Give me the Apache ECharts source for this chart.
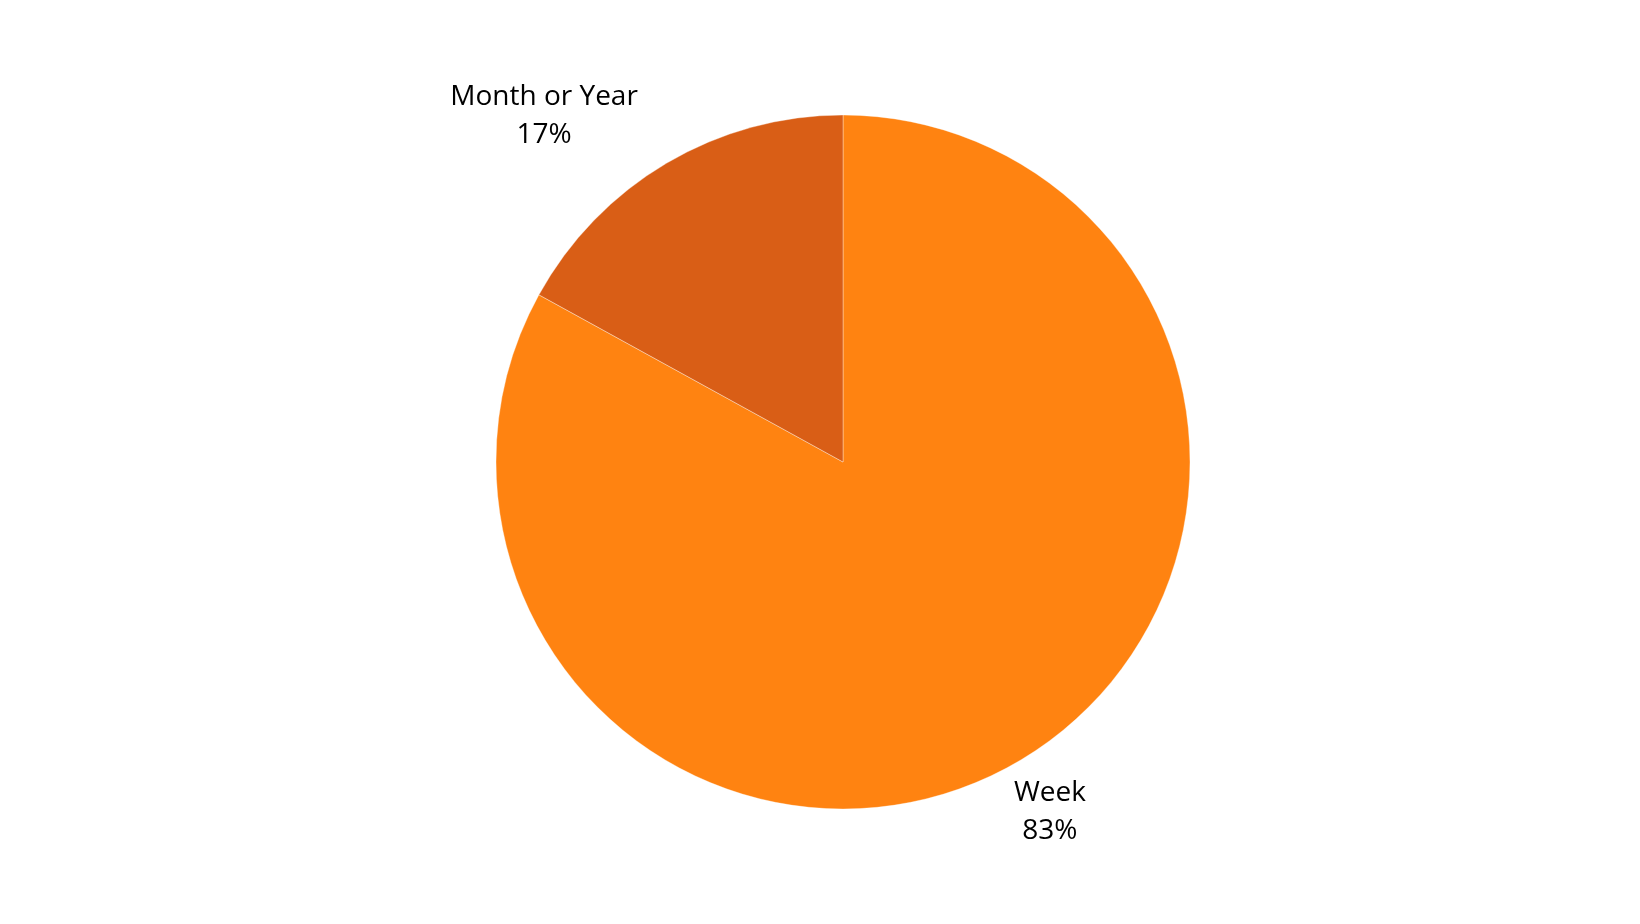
<!DOCTYPE html>
<html><head><meta charset="utf-8">
<script src="https://cdn.jsdelivr.net/npm/echarts@6/dist/echarts.min.js"></script>
<style>html,body{margin:0;padding:0;background:#fff}#c{width:1640px;height:924px}</style>
</head><body><div id="c"></div>
<script>
const categories = ['Week', 'Month or Year'];
const values = [83, 17];
const colors = ['#FF8311', '#D95E16'];
const labelShift = {'Week': [10, 26], 'Month or Year': [-102, -21]};

const chart = echarts.init(document.getElementById('c'));
chart.setOption({
  animation: false,
  backgroundColor: '#ffffff',
  series: [{
    type: 'pie',
    center: [843, 462],
    radius: [0, 347],
    startAngle: 90,
    clockwise: true,
    data: categories.map((c, i) => ({name: c, value: values[i], itemStyle: {color: colors[i]}})),
    itemStyle: {borderColor: 'rgba(255,255,255,0.35)', borderWidth: 1},
    label: {
      show: true,
      position: 'outside',
      formatter: p => p.name + '\n' + p.value + '%',
      fontFamily: 'Open Sans',
      fontSize: 28,
      lineHeight: 38,
      color: '#000',
      align: 'center'
    },
    labelLine: {show: false, length: 30, length2: 0},
    labelLayout: function (params) {
      const name = categories[params.dataIndex];
      const s = labelShift[name];
      return {align: 'center', dx: s[0], dy: s[1]};
    },
    emphasis: {disabled: true}
  }]
});
</script></body></html>
